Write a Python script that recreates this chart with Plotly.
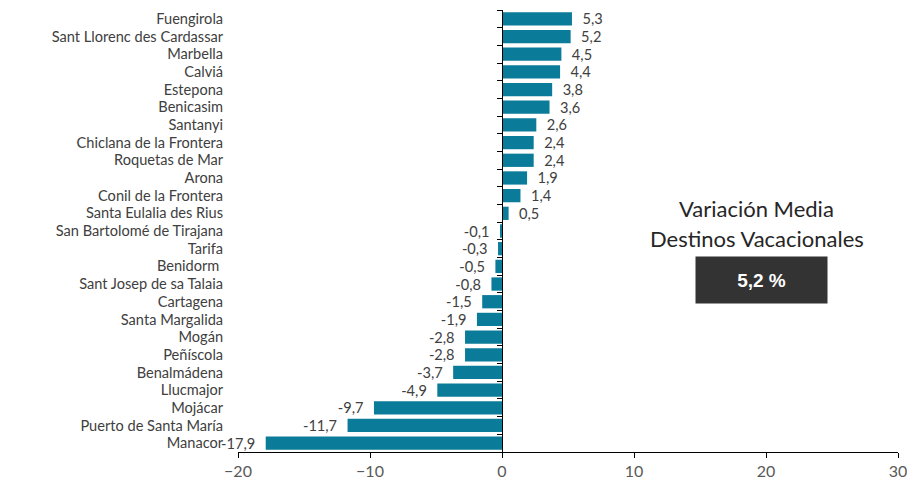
import plotly.graph_objects as go

destinos = ["Fuengirola", "Sant Llorenc des Cardassar", "Marbella", "Calviá", "Estepona",
            "Benicasim", "Santanyi", "Chiclana de la Frontera", "Roquetas de Mar", "Arona",
            "Conil de la Frontera", "Santa Eulalia des Rius", "San Bartolomé de Tirajana",
            "Tarifa", "Benidorm ", "Sant Josep de sa Talaia", "Cartagena", "Santa Margalida",
            "Mogán", "Peñíscola", "Benalmádena", "Llucmajor", "Mojácar",
            "Puerto de Santa María", "Manacor"]
variacion = [5.3, 5.2, 4.5, 4.4, 3.8, 3.6, 2.6, 2.4, 2.4, 1.9, 1.4, 0.5, -0.1,
             -0.3, -0.5, -0.8, -1.5, -1.9, -2.8, -2.8, -3.7, -4.9, -9.7, -11.7, -17.9]
x_ticks = [-20, -10, 0, 10, 20, 30]
titulo_lineas = ["Variación Media", "Destinos Vacacionales"]
media_texto = "5,2 %"

FONT = "Lato"
BAR = "#0A7B98"
xmin, xmax = x_ticks[0], x_ticks[-1]
NB = "\u00a0\u00a0"

fig = go.Figure(go.Bar(
    x=variacion, y=destinos, orientation="h",
    marker=dict(color=BAR, line=dict(width=0)),
    texttemplate=NB + "%{x:.1f}" + NB, textposition="outside",
    textfont=dict(family=FONT, size=14.6, color="#404040"),
    constraintext="none",
    cliponaxis=False,
))

fig.update_layout(
    width=907, height=476,
    margin=dict(l=230, r=17, t=2, b=32),
    paper_bgcolor="white", plot_bgcolor="white",
    separators=",.",
    bargap=0.25,
    showlegend=False,
    font=dict(family=FONT, color="#404040"),
    xaxis=dict(range=[xmin, xmax], tickvals=x_ticks, showgrid=False, zeroline=False,
               showline=True, linecolor="#000000", linewidth=1,
               ticks="outside", ticklen=5, tickcolor="#000000",
               tickfont=dict(family=FONT, size=16, color="#595959"),
               domain=[0, 1], anchor="y"),
    yaxis=dict(type="category", range=[len(destinos) - 0.5, -0.5],
               tickmode="linear", tick0=0, dtick=1,
               anchor="free", position=(0 - xmin) / (xmax - xmin),
               showline=True, linecolor="#000000", linewidth=1,
               ticks="outside", ticklen=5, tickcolor="#000000", tickson="boundaries",
               showgrid=False, zeroline=False, automargin=False,
               ticklabelstandoff=276,
               tickfont=dict(family=FONT, size=14.6, color="#404040")),
)

fig.add_annotation(x=0.786, y=0.55, xref="paper", yref="paper", text=titulo_lineas[0],
                   xanchor="center", yanchor="middle",
                   showarrow=False, font=dict(family=FONT, size=22, color="#262626"))
fig.add_annotation(x=0.786, y=0.484, xref="paper", yref="paper", text=titulo_lineas[1],
                   xanchor="center", yanchor="middle",
                   showarrow=False, font=dict(family=FONT, size=22, color="#262626"))
fig.add_annotation(x=0.793, y=0.39, xref="paper", yref="paper", text="<b>" + media_texto + "</b>",
                   xanchor="center", yanchor="middle",
                   showarrow=False, bgcolor="#333333", width=127, height=42, borderpad=2,
                   font=dict(family="Liberation Sans", size=19, color="#FFFFFF"))

fig.write_html("out.html")
